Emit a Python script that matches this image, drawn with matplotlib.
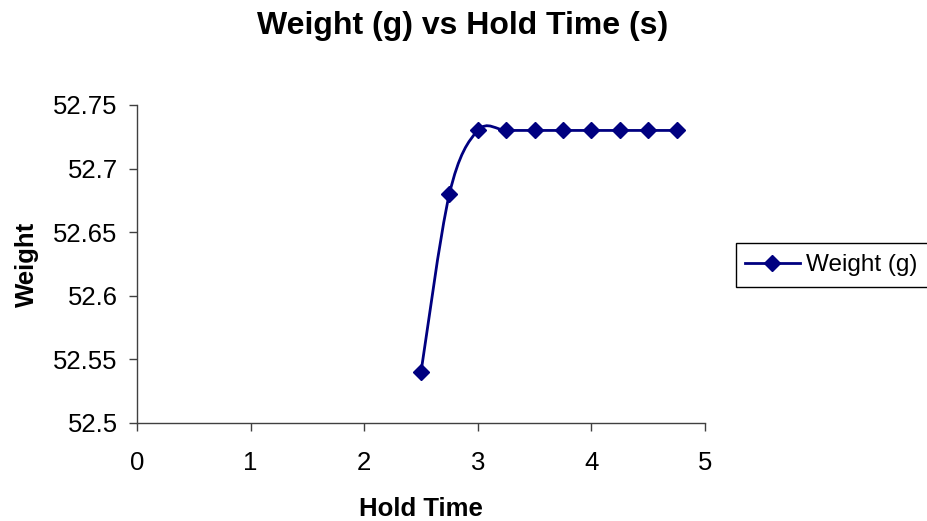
import matplotlib
matplotlib.use("Agg")
import matplotlib.pyplot as plt
from matplotlib.path import Path
from matplotlib.patches import PathPatch, Rectangle
from matplotlib.lines import Line2D

hold_time = [2.5, 2.75, 3.0, 3.25, 3.5, 3.75, 4.0, 4.25, 4.5, 4.75]
weight = [52.54, 52.68, 52.73, 52.73, 52.73, 52.73, 52.73, 52.73, 52.73, 52.73]
x_ticks = [0, 1, 2, 3, 4, 5]
y_ticks = [52.5, 52.55, 52.6, 52.65, 52.7, 52.75]
y_tick_labels = ["52.5", "52.55", "52.6", "52.65", "52.7", "52.75"]
title = "Weight (g) vs Hold Time (s)"
series_name = "Weight (g)"

plt.rcParams['font.family'] = ['Liberation Sans', 'DejaVu Sans']
navy = '#000080'
axc = '#404040'

fig = plt.figure(figsize=(9.27, 5.21), dpi=100)
ax = fig.add_axes([137/927, 1-423/521, (705-137)/927, (423-105)/521])

# Smoothed (Catmull-Rom style) curve through the data points
pts = list(zip(hold_time, weight))
verts = [pts[0]]
codes = [Path.MOVETO]
n = len(pts)
for i in range(n-1):
    p0 = pts[i-1] if i > 0 else pts[i]
    p1 = pts[i]
    p2 = pts[i+1]
    p3 = pts[i+2] if i+2 < n else pts[i+1]
    c1 = (p1[0] + (p2[0]-p0[0])/6, p1[1] + (p2[1]-p0[1])/6)
    c2 = (p2[0] - (p3[0]-p1[0])/6, p2[1] - (p3[1]-p1[1])/6)
    verts += [c1, c2, p2]
    codes += [Path.CURVE4]*3
ax.add_patch(PathPatch(Path(verts, codes), facecolor='none', edgecolor=navy, lw=2.0, zorder=2))
ax.plot(hold_time, weight, linestyle='none', marker='D', ms=8, color=navy, zorder=3)

ax.set_xlim(0, 5)
ax.set_ylim(52.5, 52.75)
ax.set_xticks(x_ticks)
ax.set_xticklabels([str(t) for t in x_ticks])
ax.set_yticks(y_ticks)
ax.set_yticklabels(y_tick_labels)
for s in ['top', 'right']:
    ax.spines[s].set_visible(False)
for s in ['left', 'bottom']:
    ax.spines[s].set_color(axc)
    ax.spines[s].set_linewidth(1.0)
ax.tick_params(axis='both', direction='out', length=6, width=1.0, color=axc, labelsize=18.5)
ax.tick_params(axis='y', pad=8)
ax.tick_params(axis='x', pad=14)

ax.set_xlabel("Hold Time", fontsize=18.5, fontweight='bold', labelpad=16)
ax.set_ylabel("Weight", fontsize=18.5, fontweight='bold', labelpad=10)
fig.text(463/927, 1-26/521, title, fontsize=23, fontweight='bold', ha='center', va='center')

# Legend frame (extends past the right edge like the reference)
fig.patches.append(Rectangle((736/927, 1-287/521), 220/927, 44/521, transform=fig.transFigure,
                             facecolor='white', edgecolor='#000000', lw=1.0, zorder=1))
handle = Line2D([], [], color=navy, lw=2.0, marker='D', ms=8)
leg = fig.legend([handle], [series_name], loc='center left', bbox_to_anchor=(736/927, 1-265/521),
                 frameon=False, fontsize=17.5, handlelength=2.3,
                 handletextpad=0.25, borderpad=0.35, borderaxespad=0)
leg.set_zorder(2)

fig.savefig("out.png", dpi=100)
